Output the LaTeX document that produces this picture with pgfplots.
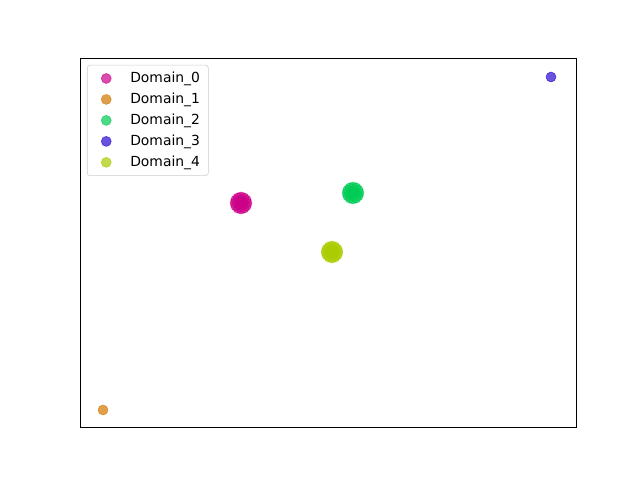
\documentclass[border=0pt]{standalone}
\usepackage{pgfplots}
\pgfplotsset{compat=1.18}
\usepackage{fontspec}
\setmainfont{DejaVu Sans}
\definecolor{c0}{RGB}{204,0,136}
\definecolor{c1}{RGB}{210,120,0}
\definecolor{c2}{RGB}{0,204,85}
\definecolor{c3}{RGB}{40,10,210}
\definecolor{c4}{RGB}{170,204,0}
\begin{document}
\begin{tikzpicture}
\path[use as bounding box] (0,0) rectangle (460.8pt,345.6pt);
\begin{axis}[
  at={(57.6pt,38.16pt)}, anchor=south west,
  scale only axis, width=357.12pt, height=265.68pt,
  xmin=0, xmax=496, ymin=0, ymax=369,
  xtick=\empty, ytick=\empty,
  axis line style={black, line width=0.6pt},
  legend cell align=left,
  legend style={at={(0,1)}, anchor=north west, xshift=5pt, yshift=-5pt,
    draw=black!20, rounded corners=2pt, fill=white, fill opacity=0.8, text opacity=1,
    font=\fontsize{10}{12}\selectfont, row sep=2.0pt, inner xsep=4pt, inner ysep=3pt},
  legend image code/.code={\path[draw=none,fill=none] (0pt,-3pt) rectangle (25pt,3pt); \draw[#1] plot coordinates {(9.7pt,0pt)};},
  every axis plot/.append style={only marks, mark=*, mark size=3.6pt, opacity=0.7},
]
\addplot[c0, mark options={draw=c0, fill=c0}] coordinates {
(161,224)(162,225)(160,223)
(167,224)(166.2,227)(164,229.2)(161,230)(158,229.2)(155.8,227)(155,224)(155.8,221)(158,218.8)(161,218)(164,218.8)(166.2,221)};
\addlegendentry{Domain\_0}
\addplot[c1, mark options={draw=c1, fill=c1}] coordinates {(23,17)};
\addlegendentry{Domain\_1}
\addplot[c2, mark options={draw=c2, fill=c2}] coordinates {
(273,234)(274,235)(272,233)
(279,234)(278.2,237)(276,239.2)(273,240)(270,239.2)(267.8,237)(267,234)(267.8,231)(270,228.8)(273,228)(276,228.8)(278.2,231)};
\addlegendentry{Domain\_2}
\addplot[c3, mark options={draw=c3, fill=c3}] coordinates {(471,350)};
\addlegendentry{Domain\_3}
\addplot[c4, mark options={draw=c4, fill=c4}] coordinates {
(252,175)(253,176)(251,174)
(258,175)(257.2,178)(255,180.2)(252,181)(249,180.2)(246.8,178)(246,175)(246.8,172)(249,169.8)(252,169)(255,169.8)(257.2,172)};
\addlegendentry{Domain\_4}
\end{axis}
\end{tikzpicture}
\end{document}
